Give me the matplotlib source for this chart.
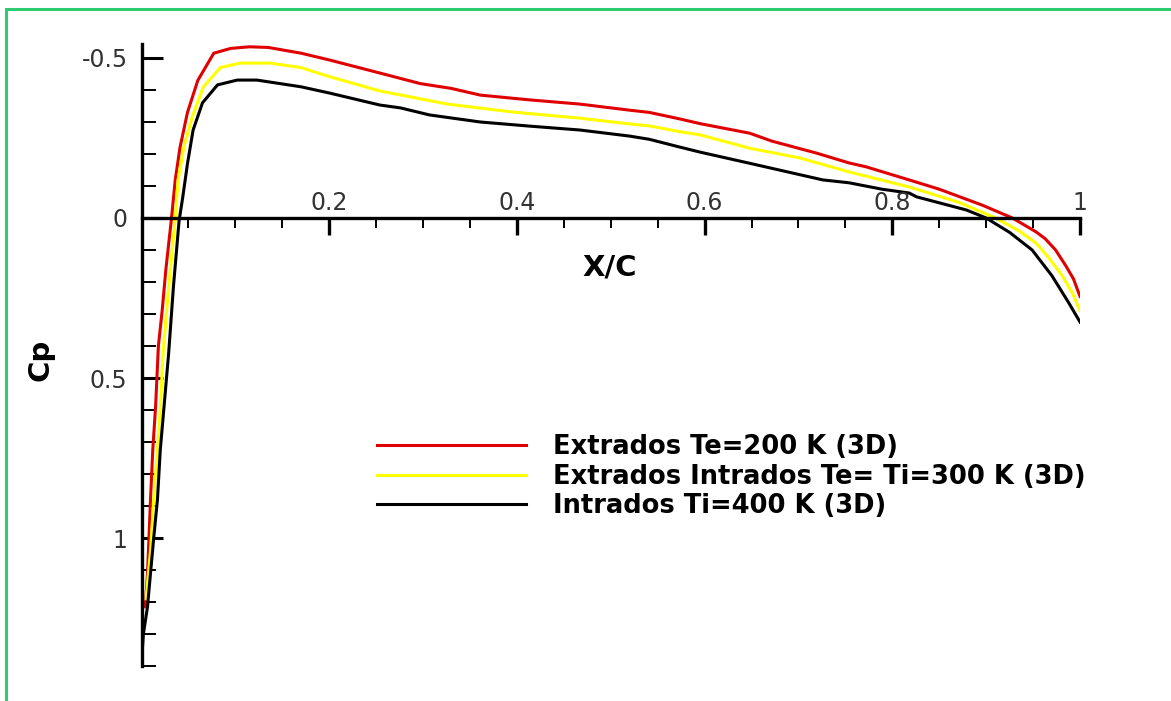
import matplotlib
matplotlib.use("Agg")
import matplotlib.pyplot as plt
from matplotlib.patches import Rectangle
from matplotlib.ticker import MultipleLocator

# Pressure coefficient along the chord for three wall temperatures
x_te200 = [0.004, 0.0064, 0.0074, 0.0096, 0.012, 0.015, 0.018, 0.022, 0.026, 0.032,
           0.036, 0.041, 0.049, 0.060, 0.077, 0.095, 0.115, 0.135, 0.170, 0.200,
           0.254, 0.297, 0.330, 0.361, 0.414, 0.467, 0.520, 0.541, 0.573, 0.595,
           0.648, 0.672, 0.719, 0.754, 0.772, 0.818, 0.850, 0.896, 0.928, 0.953,
           0.963, 0.974, 0.985, 0.993, 1.000]
cp_te200 = [1.215, 1.11, 1.04, 0.88, 0.725, 0.59, 0.40, 0.29, 0.16, 0.0,
            -0.12, -0.22, -0.33, -0.43, -0.515, -0.53, -0.535, -0.533, -0.515, -0.494,
            -0.453, -0.42, -0.405, -0.384, -0.369, -0.356, -0.337, -0.33, -0.31, -0.295,
            -0.265, -0.24, -0.203, -0.172, -0.16, -0.119, -0.09, -0.04, 0.0, 0.043,
            0.065, 0.10, 0.15, 0.19, 0.245]

x_te300 = [0.005, 0.0064, 0.0096, 0.013, 0.017, 0.020, 0.023, 0.029, 0.036, 0.039,
           0.045, 0.054, 0.066, 0.084, 0.105, 0.137, 0.170, 0.200, 0.254, 0.326,
           0.396, 0.467, 0.520, 0.541, 0.573, 0.595, 0.648, 0.701, 0.754, 0.818,
           0.870, 0.910, 0.935, 0.953, 0.967, 0.981, 0.992, 1.000]
cp_te300 = [1.19, 1.14, 1.04, 0.88, 0.725, 0.60, 0.42, 0.215, 0.0, -0.12,
            -0.22, -0.316, -0.41, -0.47, -0.484, -0.484, -0.47, -0.442, -0.397, -0.356,
            -0.331, -0.312, -0.294, -0.288, -0.27, -0.26, -0.218, -0.188, -0.144, -0.097,
            -0.05, 0.0, 0.04, 0.078, 0.125, 0.18, 0.235, 0.29]

x_ti400 = [0.0, 0.002, 0.0064, 0.0096, 0.013, 0.017, 0.020, 0.024, 0.029, 0.034,
           0.040, 0.044, 0.049, 0.055, 0.065, 0.081, 0.102, 0.123, 0.170, 0.201,
           0.254, 0.276, 0.307, 0.361, 0.414, 0.467, 0.520, 0.541, 0.573, 0.595,
           0.648, 0.726, 0.754, 0.789, 0.818, 0.826, 0.879, 0.900, 0.925, 0.949,
           0.970, 0.988, 1.000]
cp_ti400 = [1.39, 1.30, 1.215, 1.11, 1.0, 0.88, 0.725, 0.59, 0.42, 0.215,
            0.01, -0.066, -0.17, -0.275, -0.36, -0.416, -0.431, -0.431, -0.41, -0.39,
            -0.353, -0.344, -0.322, -0.30, -0.287, -0.275, -0.256, -0.246, -0.222, -0.206,
            -0.171, -0.119, -0.11, -0.09, -0.078, -0.066, -0.025, 0.0, 0.045, 0.10,
            0.18, 0.265, 0.325]

series_labels = ["Extrados Te=200 K (3D)",
                 "Extrados Intrados Te= Ti=300 K (3D)",
                 "Intrados Ti=400 K (3D)"]
series_colors = ["#E00000", "#FFFF00", "#000000"]

x_major = [0.2, 0.4, 0.6, 0.8, 1.0]
x_major_labels = ["0.2", "0.4", "0.6", "0.8", "1"]
y_major = [-0.5, 0.0, 0.5, 1.0]
y_major_labels = ["-0.5", "0", "0.5", "1"]

W, H = 1171, 701
fig = plt.figure(figsize=(W / 100, H / 100), dpi=100)
fig.patch.set_facecolor("white")

ax = fig.add_axes([141.5 / W, 1 - 666 / H, (1080 - 141.5) / W, (666 - 43.6) / H])
ax.set_xlim(0, 1)
ax.set_ylim(1.4, -0.545)

for xs, ys, c in zip([x_te200, x_te300, x_ti400], [cp_te200, cp_te300, cp_ti400], series_colors):
    ax.plot(xs, ys, color=c, lw=2.2, solid_joinstyle="round")

# Axis lines: vertical at x = 0, horizontal through Cp = 0
for s in ["top", "right"]:
    ax.spines[s].set_visible(False)
ax.spines["left"].set_linewidth(2.4)
ax.spines["bottom"].set_linewidth(2.4)
ax.spines["bottom"].set_position(("data", 0.0))
ax.spines["left"].set_bounds(1.4, -0.545)
ax.spines["bottom"].set_bounds(0, 1)

ax.set_yticks(y_major)
ax.set_yticklabels(y_major_labels)
ax.yaxis.set_minor_locator(MultipleLocator(0.1))
ax.tick_params(axis="y", which="major", direction="in", length=15, width=2.2,
               pad=10, labelsize=17, labelcolor="#333333")
ax.tick_params(axis="y", which="minor", direction="in", length=10, width=1.4)

ax.set_xticks(x_major)
ax.xaxis.set_minor_locator(MultipleLocator(0.05))
ax.tick_params(axis="x", which="major", direction="out", length=12, width=2.4,
               labelbottom=False)
ax.tick_params(axis="x", which="minor", direction="out", length=7, width=1.4)
for xv, lab in zip(x_major, x_major_labels):
    ax.annotate(lab, (xv, 0.0), xytext=(0, 6), textcoords="offset points",
                ha="center", va="baseline", fontsize=17, color="#333333")

fig.text(610 / W, 1 - 268 / H, "X/C", ha="center", va="center",
         fontsize=21, fontweight="bold")
fig.text(40 / W, 1 - 360 / H, "Cp", ha="center", va="center", rotation=90,
         fontsize=21, fontweight="bold")

handles = ax.get_lines()
leg = ax.legend(handles, series_labels, loc="upper left",
                bbox_to_anchor=(377 / W, 1 - 434 / H), bbox_transform=fig.transFigure,
                frameon=False, borderpad=0, borderaxespad=0,
                handlelength=5.8, handletextpad=1.05, labelspacing=0.14,
                prop={"weight": "bold", "size": 18.5})

# Green frame along the top and left edges
fig.patches.append(Rectangle((6 / W, -0.5), 2.0, 1 - 9 / H + 0.5,
                             transform=fig.transFigure, fill=False,
                             edgecolor="#2ECC71", lw=2.2))

fig.savefig("out.png", dpi=100)
